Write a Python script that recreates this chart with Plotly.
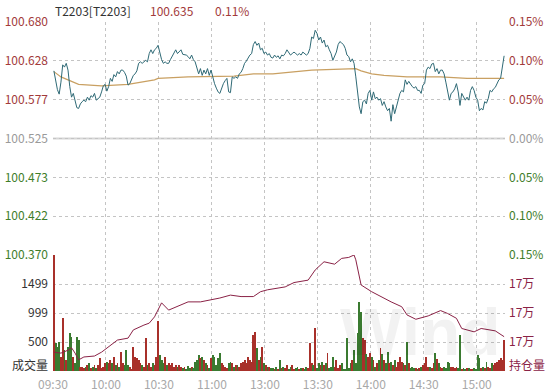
import plotly.graph_objects as go

# ---------------- data ----------------
minutes = list(range(256))  # minute index from 09:30 (11:30/13:00 joined)

price = [
    100.615, 100.600, 100.590, 100.584, 100.600, 100.623, 100.620, 100.625, 100.616, 100.594,
    100.580, 100.585, 100.574, 100.566, 100.565, 100.571, 100.574, 100.576, 100.574, 100.580,
    100.576, 100.582, 100.580, 100.585, 100.576, 100.578, 100.580, 100.587, 100.595, 100.597,
    100.588, 100.594, 100.605, 100.601, 100.610, 100.607, 100.614, 100.611, 100.616, 100.616,
    100.613, 100.608, 100.596, 100.598, 100.604, 100.609, 100.611, 100.615, 100.625, 100.627,
    100.625, 100.627, 100.629, 100.627, 100.638, 100.643, 100.638, 100.643, 100.645, 100.649,
    100.640, 100.630, 100.625, 100.627, 100.625, 100.625, 100.630, 100.634, 100.638, 100.643,
    100.638, 100.640, 100.643, 100.637, 100.637, 100.636, 100.634, 100.631, 100.636, 100.630,
    100.627, 100.620, 100.611, 100.618, 100.609, 100.616, 100.611, 100.618, 100.609, 100.616,
    100.605, 100.598, 100.592, 100.587, 100.585, 100.593, 100.598, 100.602, 100.605, 100.587,
    100.586, 100.607, 100.605, 100.607, 100.605, 100.611, 100.613, 100.618, 100.625, 100.628,
    100.632, 100.636, 100.638, 100.650, 100.654, 100.649, 100.652, 100.643, 100.645, 100.638,
    100.640, 100.636, 100.638, 100.633, 100.632, 100.636, 100.633, 100.635, 100.631, 100.636,
    100.635, 100.638, 100.643, 100.640, 100.636, 100.638, 100.640, 100.638, 100.636, 100.638,
    100.636, 100.640, 100.638, 100.636, 100.638, 100.645, 100.660, 100.658, 100.669, 100.665,
    100.656, 100.660, 100.652, 100.656, 100.647, 100.649, 100.643, 100.638, 100.629, 100.634,
    100.640, 100.650, 100.654, 100.652, 100.650, 100.645, 100.636, 100.634, 100.627, 100.631,
    100.625, 100.607, 100.585, 100.567, 100.558, 100.574, 100.576, 100.571, 100.585, 100.589,
    100.576, 100.587, 100.578, 100.580, 100.576, 100.578, 100.569, 100.574, 100.567, 100.562,
    100.565, 100.548, 100.570, 100.558, 100.567, 100.578, 100.585, 100.589, 100.587, 100.603,
    100.597, 100.601, 100.597, 100.594, 100.592, 100.594, 100.589, 100.589, 100.585, 100.596,
    100.598, 100.616, 100.620, 100.618, 100.624, 100.625, 100.614, 100.618, 100.611, 100.616,
    100.616, 100.611, 100.600, 100.589, 100.576, 100.585, 100.587, 100.591, 100.598, 100.587,
    100.569, 100.585, 100.580, 100.576, 100.580, 100.576, 100.589, 100.594, 100.589, 100.580,
    100.576, 100.562, 100.565, 100.563, 100.574, 100.572, 100.578, 100.589, 100.587, 100.591,
    100.593, 100.598, 100.603, 100.605, 100.618, 100.635,
]

avg_minutes = [0, 4, 8, 14, 27, 42, 57, 59, 76, 102, 113, 124, 146, 168, 171, 174, 180, 187, 200, 219, 234, 255]
avg_price = [100.614, 100.607, 100.603, 100.597, 100.595, 100.597, 100.603, 100.605, 100.607, 100.608,
             100.611, 100.611, 100.616, 100.618, 100.618, 100.615, 100.611, 100.609, 100.607, 100.607,
             100.605, 100.605]

volume = [
    2000, 480, 420, 506, 247, 910, 362, 190, 420, 650,
    590, 247, 132, 590, 540, 74, 74, 50, 74, 100,
    132, 50, 74, 100, 50, 100, 225, 50, 74, 132,
    160, 132, 190, 132, 245, 100, 132, 74, 333, 132,
    100, 360, 100, 74, 40, 420, 247, 220, 190, 132,
    100, 74, 565, 100, 132, 74, 132, 100, 247, 870,
    275, 190, 132, 247, 100, 132, 100, 132, 74, 100,
    74, 100, 74, 60, 74, 40, 90, 60, 74, 50,
    160, 190, 275, 220, 247, 190, 132, 100, 60, 220,
    275, 247, 100, 220, 305, 132, 100, 74, 60, 132,
    160, 132, 74, 100, 100, 74, 132, 160, 190, 132,
    247, 190, 160, 620, 680, 400, 190, 247, 420, 132,
    100, 74, 74, 50, 50, 40, 74, 40, 190, 50,
    74, 60, 100, 40, 74, 100, 40, 60, 74, 40,
    60, 50, 40, 74, 60, 477, 132, 100, 735, 60,
    132, 100, 160, 100, 132, 305, 60, 74, 246, 74,
    190, 60, 100, 132, 40, 40, 563, 60, 132, 190,
    362, 132, 650, 1195, 1022, 563, 535, 300, 250, 305,
    247, 190, 74, 132, 190, 391, 300, 190, 132, 333,
    132, 160, 100, 190, 74, 160, 245, 160, 132, 100,
    506, 132, 60, 74, 60, 60, 40, 60, 74, 100,
    132, 247, 74, 74, 60, 132, 305, 200, 132, 74,
    60, 74, 60, 160, 132, 74, 74, 60, 74, 60,
    620, 40, 60, 40, 60, 60, 40, 40, 60, 40,
    275, 220, 60, 74, 60, 160, 74, 60, 132, 100,
    132, 160, 190, 220, 190, 535,
]

oi_minutes = [0, 4, 8, 10, 12, 14, 17, 23, 27, 32, 36, 42, 45, 51, 54, 57, 61, 65, 70, 76,
              83, 89, 94, 100, 106, 113, 117, 121, 125, 131, 136, 144, 148, 153, 159, 163, 167, 170, 171, 174,
              180, 185, 191, 197, 200, 205, 212, 219, 223, 228, 231, 238, 242, 250, 255]
oi_values = [171390, 171370, 171430, 171480, 171370, 171230, 171290, 171310, 171390, 171520,
             171640, 171680, 171850, 171950, 171990, 172120, 172410, 172260, 172330, 172430,
             172430, 172470, 172510, 172570, 172540, 172540, 172640, 172680, 172710, 172740,
             172830, 172880, 173090, 173260, 173210, 173330, 173350, 173400, 173300, 172780,
             172640, 172540, 172430, 172330, 172160, 172070, 172140, 172250, 172190, 172090,
             171880, 171810, 171880, 171830, 171710]

pre_close = 100.525
price_min, price_max = 100.370, 100.680
price_tick_labels = ["100.370", "100.422", "100.473", "100.525", "100.577", "100.628", "100.680"]
pct_tick_labels = ["0.15%", "0.10%", "0.05%", "0.00%", "0.05%", "0.10%", "0.15%"]
time_labels = ["09:30", "10:00", "10:30", "11:00", "13:00", "13:30", "14:00", "14:30", "15:00"]
vol_tick_vals = [500, 999, 1499]
vol_tick_labels = ["500", "999", "1499"]
vol_title = "成交量"
vol_max = 2000
oi_range = [171000, 173400]
oi_tick_vals = [171600, 172200, 172800]
oi_tick_labels = ["17万", "17万", "17万"]
oi_title = "持仓量"
title_code = "T2203[T2203]"
last_price = "100.635"
last_pct = "0.11%"
watermark = "Wind"

# ---------------- styling ----------------
RED = "#a23a3a"
GREEN = "#3e7d2a"
GRAY = "#9a9a9a"
DARK = "#333333"
MAROON = "#8a2246"
GRID = "#c4c4c4"
FONT = "Noto Sans CJK SC, Noto Sans, sans-serif"

n_ticks = len(price_tick_labels)
price_tick_vals = [price_min + k * (price_max - price_min) / (n_ticks - 1) for k in range(n_ticks)]


def lbl_color(v):
    if abs(v - pre_close) < 1e-4:
        return GRAY
    return RED if v > pre_close else GREEN


price_ticktext = [f'<span style="color:{lbl_color(v)}">{t}</span>' for v, t in zip(price_tick_vals, price_tick_labels)]
pct_ticktext = [f'<span style="color:{lbl_color(v)}">{t}</span>' for v, t in zip(price_tick_vals, pct_tick_labels)]

bar_colors = ["#a8302a" if i == 0 or price[i] >= price[i - 1] else "#3a7a30" for i in range(len(price))]

x_tick_vals = [-0.5 + 30 * k for k in range(len(time_labels))] + [255.5]
x_tick_text = time_labels + [""]

fig = go.Figure()

fig.add_trace(go.Bar(x=minutes, y=volume, marker=dict(color=bar_colors, line=dict(width=0)),
                     width=0.5, xaxis="x", yaxis="y2", showlegend=False, hoverinfo="skip"))
fig.add_trace(go.Scatter(x=oi_minutes, y=oi_values, mode="lines", line=dict(color=MAROON, width=1),
                         xaxis="x", yaxis="y4", showlegend=False, hoverinfo="skip"))
fig.add_trace(go.Scatter(x=avg_minutes, y=avg_price, mode="lines", line=dict(color="#c9a062", width=1.2),
                         xaxis="x", yaxis="y", showlegend=False, hoverinfo="skip"))
fig.add_trace(go.Scatter(x=minutes, y=price, mode="lines", line=dict(color="#2f6a76", width=1),
                         xaxis="x", yaxis="y", showlegend=False, hoverinfo="skip"))
# invisible trace to activate the right-hand percentage axis
fig.add_trace(go.Scatter(x=[minutes[0]], y=[pre_close], mode="markers", marker=dict(opacity=0),
                         xaxis="x", yaxis="y3", showlegend=False, hoverinfo="skip"))

split = 116 / 349

fig.update_layout(
    width=548, height=392,
    margin=dict(l=53, r=43, t=22, b=21, autoexpand=False),
    paper_bgcolor="white", plot_bgcolor="white",
    font=dict(family=FONT, size=12, color=DARK),
    bargap=0,
    xaxis=dict(domain=[0, 1], range=[-0.5, 255.5], anchor="y2", automargin=False,
               tickvals=x_tick_vals, ticktext=x_tick_text,
               showgrid=True, gridcolor=GRID, griddash="dot", gridwidth=1,
               zeroline=False, showline=False, ticks="", ticklabelstandoff=5,
               tickfont=dict(color="#a8a8a8", size=12)),
    yaxis=dict(domain=[split, 1], range=[price_min, price_max], anchor="x", automargin=False,
               tickvals=price_tick_vals, ticktext=price_ticktext,
               showgrid=True, gridcolor=GRID, griddash="dot", gridwidth=1,
               zeroline=False, showline=False, ticks="", ticklabelstandoff=4),
    yaxis3=dict(overlaying="y", side="right", range=[price_min, price_max], anchor="x", automargin=False,
                tickvals=price_tick_vals, ticktext=pct_ticktext,
                showgrid=False, zeroline=False, showline=False, ticks="", ticklabelstandoff=3),
    yaxis2=dict(domain=[0, split], range=[0, vol_max], anchor="x", automargin=False,
                tickvals=vol_tick_vals, ticktext=vol_tick_labels,
                showgrid=True, gridcolor=GRID, griddash="dot", gridwidth=1,
                zeroline=False, showline=False, ticks="", ticklabelstandoff=4,
                tickfont=dict(color=DARK)),
    yaxis4=dict(overlaying="y2", side="right", range=oi_range, anchor="x", automargin=False,
                tickvals=oi_tick_vals, ticktext=oi_tick_labels,
                showgrid=False, zeroline=False, showline=False, ticks="", ticklabelstandoff=3,
                tickfont=dict(color=MAROON)),
    shapes=[dict(type="line", xref="paper", x0=0, x1=1, yref="y", y0=pre_close, y1=pre_close,
                 line=dict(color="#d6d6d6", width=2), layer="below")],
    annotations=[
        dict(text=title_code, xref="paper", yref="paper", x=0, y=1.032, xanchor="left", yanchor="middle",
             showarrow=False, font=dict(color=DARK, size=12)),
        dict(text=last_price, xref="paper", yref="paper", x=0.21, y=1.032, xanchor="left", yanchor="middle",
             showarrow=False, font=dict(color=RED, size=12)),
        dict(text=last_pct, xref="paper", yref="paper", x=0.354, y=1.032, xanchor="left", yanchor="middle",
             showarrow=False, font=dict(color=RED, size=12)),
        dict(text=vol_title, xref="paper", yref="paper", x=0, y=0.018, xanchor="right", yanchor="middle",
             xshift=-3, showarrow=False, font=dict(color=DARK, size=12)),
        dict(text=oi_title, xref="paper", yref="paper", x=1, y=0.018, xanchor="left", yanchor="middle",
             xshift=2, showarrow=False, font=dict(color=MAROON, size=12)),
        dict(text=f"<b>{watermark}</b>", xref="paper", yref="paper", x=0.63, y=0.0, xanchor="left", yanchor="bottom",
             showarrow=False, font=dict(color="rgba(0,0,0,0.05)", size=66, family="Liberation Sans, Arial")),
    ],
)

fig.write_html("out.html", config={"displayModeBar": False},
               post_script="document.body.style.margin='0';document.body.style.padding='0';")
